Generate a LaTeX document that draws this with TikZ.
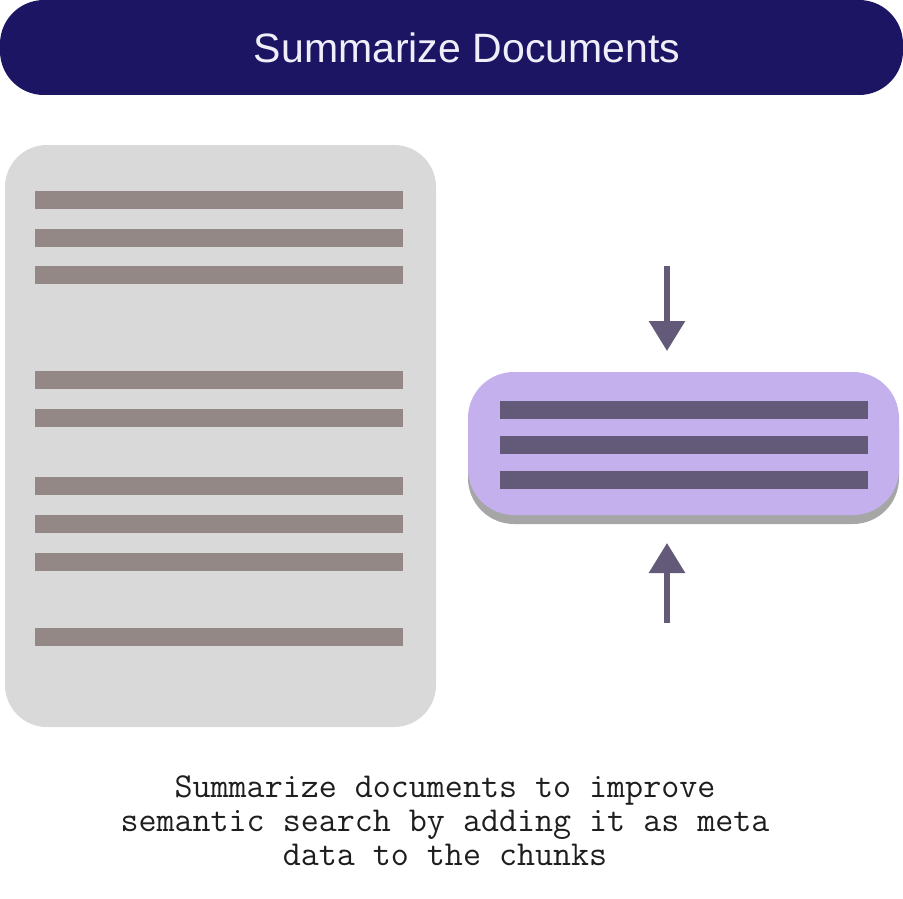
\documentclass[tikz,border=0pt]{standalone}
\usepackage{fontspec}
\newfontfamily\titlefont{Liberation Sans}
\usetikzlibrary{arrows.meta,shadows}

\definecolor{titlebg}{HTML}{1C1564}
\definecolor{titlefg}{HTML}{F0EEF8}
\definecolor{docbg}{HTML}{D9D9D9}
\definecolor{docline}{HTML}{948887}
\definecolor{sumbg}{HTML}{C5B0EE}
\definecolor{sumline}{HTML}{625A78}
\definecolor{sumshadow}{HTML}{A6A6A6}
\definecolor{captionfg}{HTML}{1E1E1E}

\tikzset{
  titlebar/.style={fill=titlebg, rounded corners=44pt, minimum width=903pt,
    minimum height=95pt, inner sep=0pt},
  titletext/.style={text=titlefg, font=\titlefont\fontsize{41}{41}\selectfont},
  docpage/.style={fill=docbg, rounded corners=42pt, minimum width=431pt,
    minimum height=582pt, inner sep=0pt},
  textrow/.style={fill=docline, minimum width=368pt, minimum height=18pt, inner sep=0pt},
  summary/.style={fill=sumbg, rounded corners=46pt, minimum width=431pt,
    minimum height=143pt, inner sep=0pt,
    drop shadow={shadow xshift=0pt, shadow yshift=-9pt, fill=sumshadow, opacity=1}},
  sumrow/.style={fill=sumline, minimum width=368pt, minimum height=18pt, inner sep=0pt},
  squeeze/.style={draw=sumline, line width=6pt,
    -{Triangle[length=30pt,width=35pt]}, color=sumline},
  caption/.style={text=captionfg, align=center,
    font=\ttfamily\fontsize{35}{34}\selectfont}
}

\begin{document}
\begin{tikzpicture}[x=1pt, y=-1pt]
  \useasboundingbox (0,0) rectangle (903,899);

  % heading
  \node[titlebar] (bar) at (451.5,47.5) {};
  \node[titletext] (heading) at (467,48) {Summarize Documents};

  % full document with its text rows
  \node[docpage] (doc) at (220.5,436) {};
  \foreach \n/\y in {1/200,2/238,3/275,4/380,5/418,6/486,7/524,8/562,9/637}
    \node[textrow] (row\n) at (219,\y) {};

  % condensed summary
  \node[summary] (sum) at (683.5,443.5) {};
  \foreach \n/\y in {1/410,2/445,3/480}
    \node[sumrow] (srow\n) at (684,\y) {};

  % squeezing arrows
  \coordinate (topstart) at (667,266);
  \coordinate (topend) at (667,351);
  \coordinate (botstart) at (667,623);
  \coordinate (botend) at (667,543);
  \draw[squeeze] (topstart) -- (topend);
  \draw[squeeze] (botstart) -- (botend);

  % explanation (base anchor sits on the last line)
  \node[caption, anchor=base] (note) at (445,865)
    {Summarize documents to improve\\semantic search by adding it as meta\\data to the chunks};
\end{tikzpicture}
\end{document}
